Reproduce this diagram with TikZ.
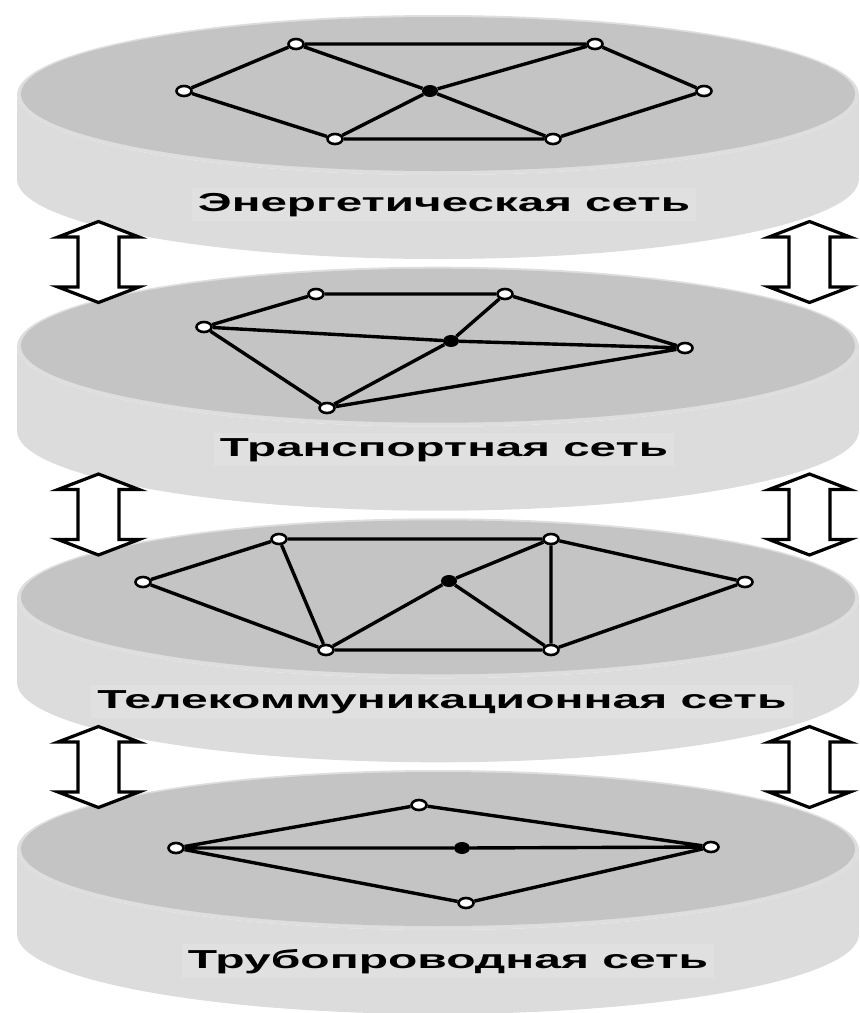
\documentclass[tikz,border=0pt]{standalone}
\usepackage{fontspec}
\setmainfont{Liberation Sans}
\usetikzlibrary{shapes.geometric}

\definecolor{topface}{HTML}{C4C4C4}
\definecolor{rimlight}{HTML}{DEDEDE}
\definecolor{sideedge}{HTML}{ACACAC}
\definecolor{sidemid}{HTML}{CDCDCD}
\definecolor{sidelight}{HTML}{DCDCDC}
\definecolor{labelbg}{HTML}{E0E0E0}

% side wall of a disc: darker towards both ends
\pgfdeclarehorizontalshading{sideshade}{100bp}{%
  color(0bp)=(sideedge); color(8bp)=(sidemid); color(25bp)=(sidelight);
  color(75bp)=(sidelight); color(92bp)=(sidemid); color(100bp)=(sideedge)}

\tikzset{
  netline/.style={line width=3.4pt},
  opennode/.style={ellipse, draw=black, fill=white, line width=2.6pt,
    minimum width=15pt, minimum height=10pt, inner sep=0pt},
  hubnode/.style={ellipse, fill=black, minimum width=16pt,
    minimum height=12pt, inner sep=0pt},
  layerlabel/.style={anchor=base, fill=labelbg, inner xsep=6pt, inner ysep=5pt,
    font=\bfseries\fontsize{26}{30}\selectfont},
  linkarrow/.style={draw=black, fill=white, line width=3.2pt, line join=miter},
  pics/dblarrow/.style={code={
    \draw[linkarrow] (0,-40.5) -- (40.5,-25) -- (20.5,-25) -- (20.5,25)
      -- (40.5,25) -- (0,40.5) -- (-40.5,25) -- (-20.5,25) -- (-20.5,-25)
      -- (-40.5,-25) -- cycle;}},
}

\begin{document}
\begin{tikzpicture}[x=1pt, y=-1pt]
\useasboundingbox (0,0) rectangle (860,1013);

% four stacked discs
\foreach \ty in {95,346.7,598.3,850}{
  \shade[shading=sideshade] (17,\ty) -- (17,\ty+84)
    arc[start angle=180, end angle=0, x radius=421, y radius=80]
    -- (859,\ty)
    arc[start angle=0, end angle=180, x radius=421, y radius=80] -- cycle;
  \fill[rimlight] (438,\ty) ellipse[x radius=421, y radius=80];
  \fill[topface] (438,\ty-1) ellipse[x radius=417, y radius=77];
}

% energy network
\node[opennode] (e1a) at (296,44) {};
\node[opennode] (e1b) at (595,44) {};
\node[opennode] (e1c) at (184,91) {};
\node[hubnode]  (e1d) at (430,91) {};
\node[opennode] (e1e) at (704,91) {};
\node[opennode] (e1f) at (335,139) {};
\node[opennode] (e1g) at (553,139) {};
\draw[netline] (e1a) -- (e1b) (e1a) -- (e1c) (e1a) -- (e1d) (e1b) -- (e1d)
  (e1b) -- (e1e) (e1c) -- (e1f) (e1f) -- (e1d) (e1d) -- (e1g)
  (e1f) -- (e1g) (e1g) -- (e1e);

% transport network
\node[opennode] (t2a) at (316,294) {};
\node[opennode] (t2b) at (505,294) {};
\node[opennode] (t2c) at (204,327) {};
\node[hubnode]  (t2d) at (451,341) {};
\node[opennode] (t2e) at (685,348) {};
\node[opennode] (t2f) at (327,408) {};
\draw[netline] (t2c) -- (t2a) (t2a) -- (t2b) (t2b) -- (t2e) (t2c) -- (t2d)
  (t2d) -- (t2e) (t2b) -- (t2d) (t2d) -- (t2f) (t2c) -- (t2f) (t2f) -- (t2e);

% telecommunication network
\node[opennode] (k3a) at (279,539) {};
\node[opennode] (k3b) at (551,539) {};
\node[opennode] (k3c) at (143,582) {};
\node[hubnode]  (k3d) at (449,581) {};
\node[opennode] (k3e) at (745,582) {};
\node[opennode] (k3f) at (326,650) {};
\node[opennode] (k3g) at (551,650) {};
\draw[netline] (k3c) -- (k3a) (k3a) -- (k3b) (k3a) -- (k3f) (k3c) -- (k3f)
  (k3f) -- (k3g) (k3f) -- (k3d) (k3d) -- (k3b) (k3d) -- (k3g)
  (k3b) -- (k3g) (k3b) -- (k3e) (k3e) -- (k3g);

% pipeline network
\node[opennode] (p4a) at (419,805) {};
\node[opennode] (p4b) at (176,848) {};
\node[hubnode]  (p4c) at (462,848) {};
\node[opennode] (p4d) at (711,847) {};
\node[opennode] (p4e) at (466,903) {};
\draw[netline] (p4b) -- (p4a) (p4a) -- (p4d) (p4b) -- (p4c) (p4c) -- (p4d)
  (p4b) -- (p4e) (p4e) -- (p4d);

% layer names
\node[layerlabel] (lbl1) at (444,211) {\resizebox{492pt}{\height}{Энергетическая сеть}};
\node[layerlabel] (lbl2) at (444,456) {\resizebox{448pt}{\height}{Транспортная сеть}};
\node[layerlabel] (lbl3) at (442,708) {\resizebox{689pt}{\height}{Телекоммуникационная сеть}};
\node[layerlabel] (lbl4) at (448,968) {\resizebox{520pt}{\height}{Трубопроводная сеть}};

% interaction arrows between layers
\foreach \ay in {262,514.5,767}{
  \pic at (98.5,\ay) {dblarrow};
  \pic at (809.5,\ay) {dblarrow};
}
\end{tikzpicture}
\end{document}
